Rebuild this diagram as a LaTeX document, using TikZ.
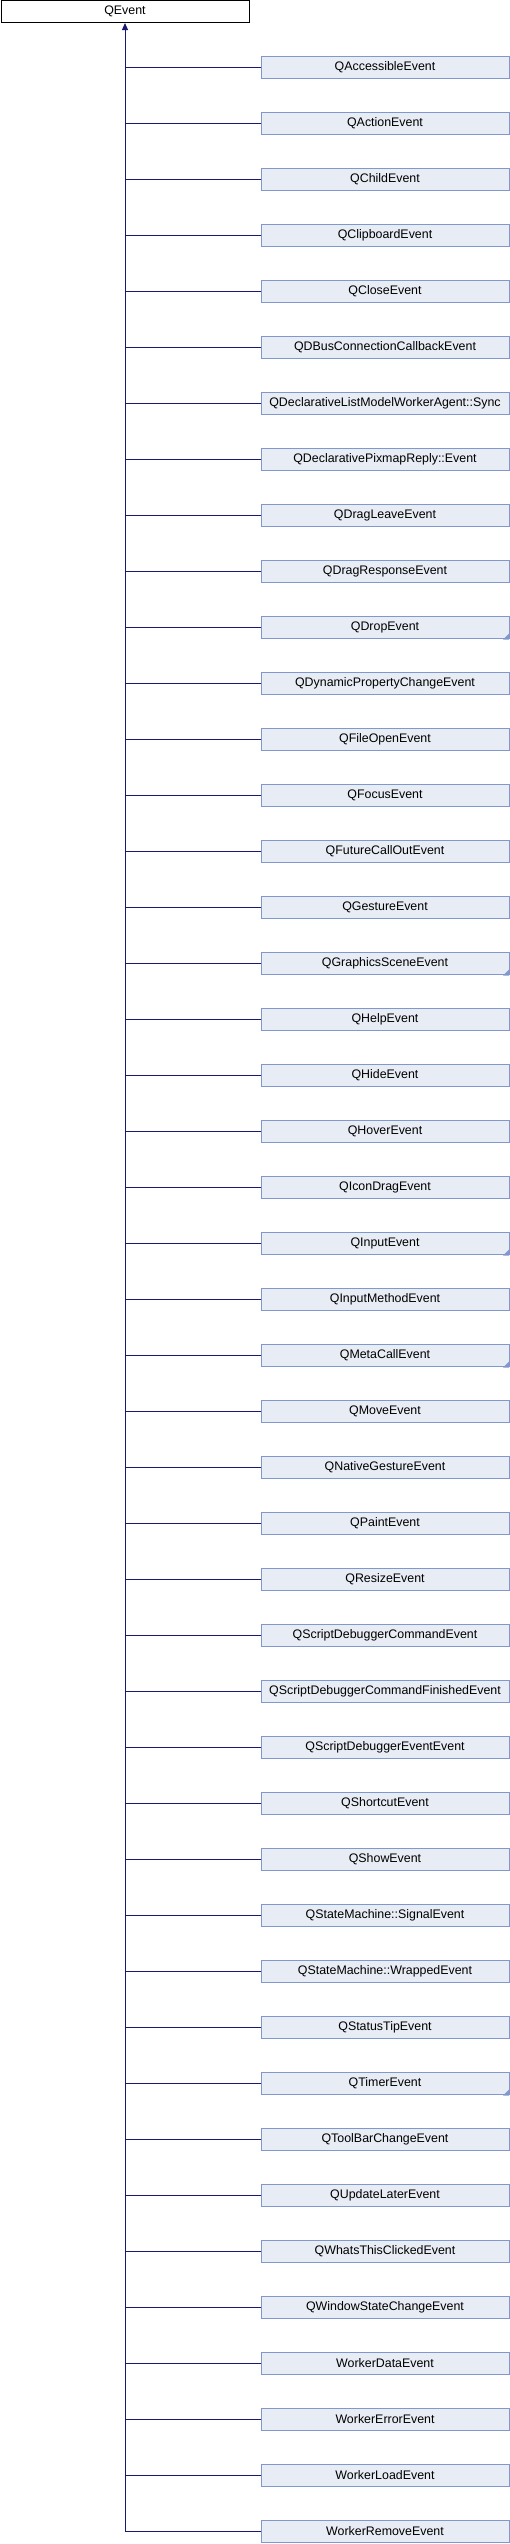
\documentclass[tikz,border=0pt]{standalone}
\usepackage{fontspec}
\setmainfont{Liberation Sans}
\usetikzlibrary{arrows.meta}
\definecolor{boxfill}{RGB}{232,236,244}
\definecolor{boxline}{RGB}{128,152,206}
\definecolor{edgecol}{RGB}{25,25,112}
\tikzset{
  basebox/.style={draw=black, fill=white, line width=1pt, minimum width=248pt, minimum height=22pt, inner sep=0pt, font=\fontsize{12.4}{14}\selectfont},
  childbox/.style={draw=boxline, fill=boxfill, line width=1pt, minimum width=248pt, minimum height=22pt, inner sep=0pt, font=\fontsize{12.4}{14}\selectfont},
  edgeline/.style={draw=edgecol, line width=1pt},
  more/.style={fill=boxline, draw=none}
}
\begin{document}
\begin{tikzpicture}[x=1pt,y=-1pt]
\useasboundingbox (0,0) rectangle (510,2544);
\node[basebox] (q) at (125,11.5) {QEvent};
\foreach \name [count=\i from 0] in {QAccessibleEvent,QActionEvent,QChildEvent,QClipboardEvent,QCloseEvent,QDBusConnectionCallbackEvent,QDeclarativeListModelWorkerAgent::Sync,QDeclarativePixmapReply::Event,QDragLeaveEvent,QDragResponseEvent,QDropEvent,QDynamicPropertyChangeEvent,QFileOpenEvent,QFocusEvent,QFutureCallOutEvent,QGestureEvent,QGraphicsSceneEvent,QHelpEvent,QHideEvent,QHoverEvent,QIconDragEvent,QInputEvent,QInputMethodEvent,QMetaCallEvent,QMoveEvent,QNativeGestureEvent,QPaintEvent,QResizeEvent,QScriptDebuggerCommandEvent,QScriptDebuggerCommandFinishedEvent,QScriptDebuggerEventEvent,QShortcutEvent,QShowEvent,QStateMachine::SignalEvent,QStateMachine::WrappedEvent,QStatusTipEvent,QTimerEvent,QToolBarChangeEvent,QUpdateLaterEvent,QWhatsThisClickedEvent,QWindowStateChangeEvent,WorkerDataEvent,WorkerErrorEvent,WorkerLoadEvent,WorkerRemoveEvent}{
  \node[childbox] (c\i) at (385,67.5+56*\i) {\name};
  \draw[edgeline] (c\i.west) -- (q.south |- c\i.west);
}
\foreach \i in {10,16,21,23,36}{
  \fill[more] ([shift={(-0.5,0.5)}]c\i.south east) -- ++(-6,0) -- ++(6,-6) -- cycle;
}
\draw[edgeline, {Triangle[length=7pt,width=6pt]}-] (q.south) -- (q.south |- c44.west);
\end{tikzpicture}
\end{document}
